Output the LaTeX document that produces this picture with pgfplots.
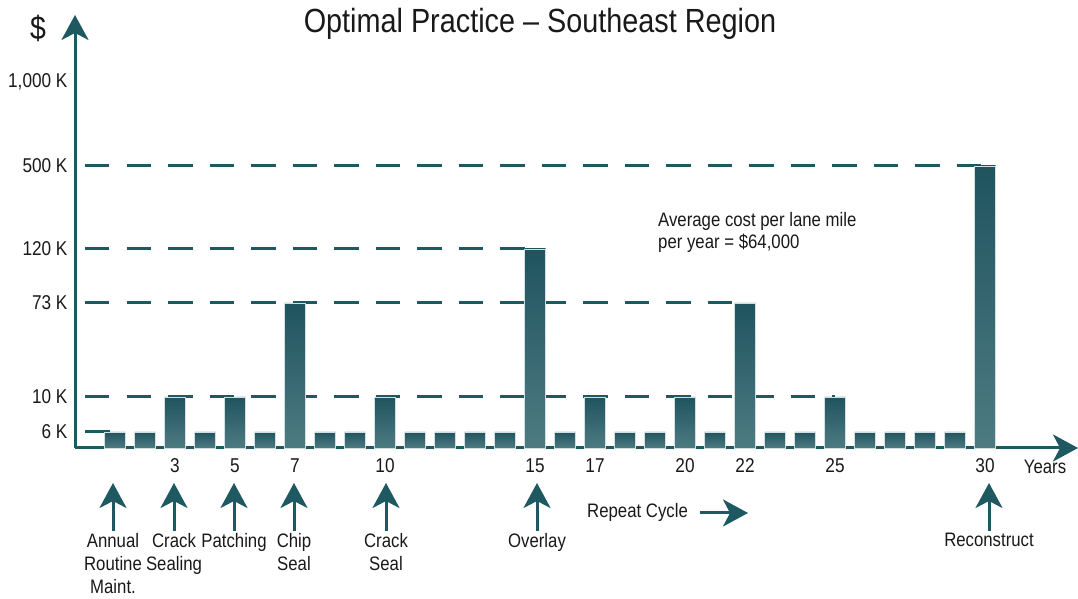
\documentclass[border=0pt]{standalone}
\usepackage{fontspec}
\setmainfont{Liberation Sans}[FakeStretch=0.86]
\usepackage{pgfplots}
\pgfplotsset{compat=1.18}
\usetikzlibrary{arrows.meta}
\definecolor{tealax}{RGB}{30,89,98}
\definecolor{bartop}{RGB}{31,84,95}
\definecolor{barbot}{RGB}{78,123,130}
\definecolor{txt}{RGB}{25,25,25}

\begin{document}
\begin{tikzpicture}[
  lbl/.style={font=\fontsize{19.5}{23}\selectfont, text=txt, align=center, anchor=north, inner sep=0pt},
  uparrow/.style={line width=3pt, draw=tealax, -{Stealth[length=25pt, width=27pt, inset=7pt]}},
]
\begin{axis}[
  scale only axis,
  x=30pt, y=1pt,
  xmin=-0.3333, xmax=33.1,
  ymin=0, ymax=1399,
  % piecewise scale of the original chart (values in K$)
  y coord trafo/.code={\pgfmathparse{#1<=6 ? #1*2.66667 : (#1<=10 ? 16+(#1-6)*8.75 : (#1<=73 ? 51+(#1-10)*1.49206 : (#1<=120 ? 145+(#1-73)*1.14894 : (#1<=500 ? 199+(#1-120)*0.218421 : 282+(#1-500)*0.168))))}},
  axis lines=left,
  axis line style={line width=3pt, draw=tealax},
  every outer x axis line/.append style={-{Stealth[length=25pt, width=27pt, inset=7pt]}},
  every outer y axis line/.append style={-{Stealth[length=25pt, width=27pt, inset=7pt]}},
  xtick={3,5,7,10,15,17,20,22,25,30},
  xticklabels={3,5,7,10,15,17,20,22,25,30},
  ytick={6,10,73,120,500,1000},
  yticklabels={6 K,10 K,73 K,120 K,500 K,{1,000 K}},
  major tick length=0pt,
  tick label style={font=\fontsize{20}{22}\selectfont, text=txt},
  xticklabel style={yshift=-7pt},
  yticklabel style={xshift=-4pt},
  clip=false,
  bars/.style={ybar, bar width=21pt, bar shift=0pt, draw=white!80!tealax, line width=0.8pt,
    top color=bartop, bottom color=barbot},
]
% reference lines
\addplot[forget plot, tealax, line width=3pt] coordinates {(0,6) (0.82,6)};
\addplot[forget plot, tealax, line width=3pt, dash pattern=on 24.5pt off 17pt] coordinates {(0,10) (25,10)};
\addplot[forget plot, tealax, line width=3pt, dash pattern=on 24.5pt off 17pt] coordinates {(0,73) (22,73)};
\addplot[forget plot, tealax, line width=3pt, dash pattern=on 24.5pt off 17pt] coordinates {(0,120) (15,120)};
\addplot[forget plot, tealax, line width=3pt, dash pattern=on 24.5pt off 17pt] coordinates {(0,500) (30,500)};

% annual routine maintenance, 6 K
\addplot[bars] coordinates {
  (1,6) (2,6) (4,6) (6,6) (8,6) (9,6) (11,6) (12,6) (13,6) (14,6) (16,6)
  (18,6) (19,6) (21,6) (23,6) (24,6) (26,6) (27,6) (28,6) (29,6)
};
% crack sealing / patching / crack seal, 10 K
\addplot[bars] coordinates {(3,10) (5,10) (10,10) (17,10) (20,10) (25,10)};
% chip seal, 73 K
\addplot[bars] coordinates {(7,73) (22,73)};
% overlay, 120 K
\addplot[bars] coordinates {(15,120)};
% reconstruct, 500 K
\addplot[bars] coordinates {(30,500)};
\coordinate (O) at (axis cs:0,0);
\end{axis}

\node[font=\fontsize{33.5}{35}\selectfont, text=txt] at ([shift={(455pt,424pt)}]O) {Optimal Practice -- Southeast Region};
\node[font=\fontsize{33}{35}\selectfont, text=txt] at ([shift={(-47pt,420pt)}]O) {\$};
\node[lbl, align=left, anchor=north west] at ([shift={(573pt,236pt)}]O) {Average cost per lane mile\\[-1pt]per year = \$64,000};
\node[font=\fontsize{19.5}{22}\selectfont, text=txt] at ([shift={(960pt,-19pt)}]O) {Years};

\foreach \x/\t in {28/{Annual\\Routine\\Maint.}, 89/{Crack\\Sealing}, 149/{Patching}, 209/{Chip\\Seal}, 301/{Crack\\Seal}, 452/{Overlay}, 904/{Reconstruct}} {
  \draw[uparrow] ([shift={(\x pt,-83pt)}]O) -- ([shift={(\x pt,-35pt)}]O);
  \node[lbl] at ([shift={(\x pt,-85pt)}]O) {\t};
}
\node[lbl, anchor=base west] at ([shift={(502pt,-70pt)}]O) {Repeat Cycle};
\draw[uparrow] ([shift={(615pt,-65pt)}]O) -- ([shift={(663pt,-65pt)}]O);

\pgfresetboundingbox
\path[use as bounding box] ([shift={(-85pt,-151pt)}]O) rectangle ([shift={(993pt,448pt)}]O);
\end{tikzpicture}
\end{document}
